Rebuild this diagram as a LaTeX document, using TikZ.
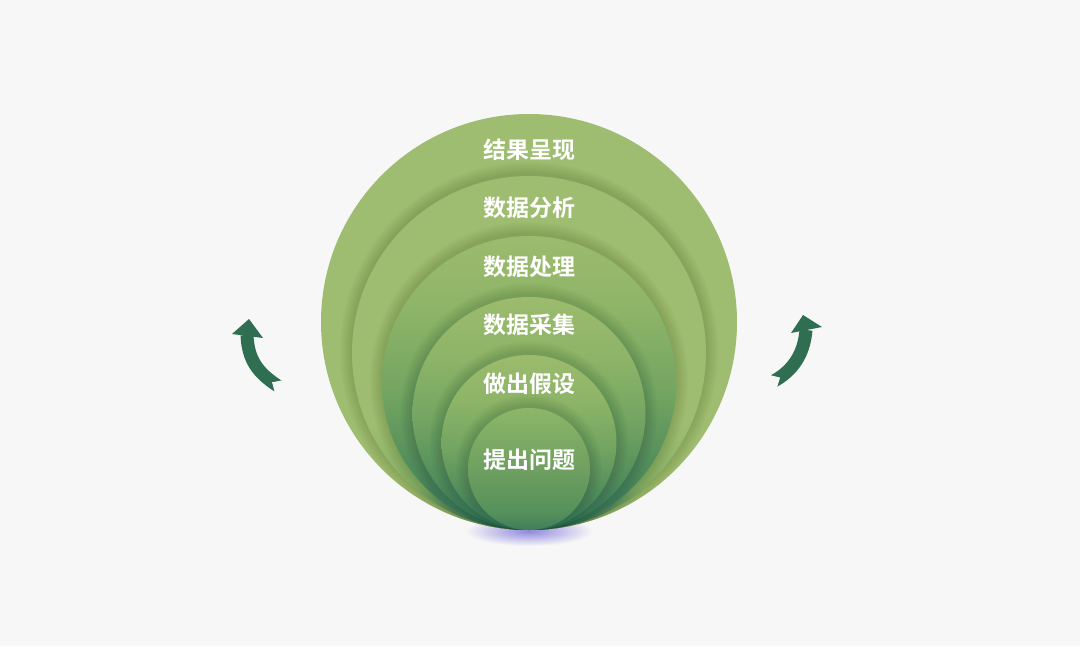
\documentclass[tikz,border=0pt]{standalone}
\usepackage{fontspec}
\newfontfamily\cjk{Noto Sans CJK SC}[BoldFont={Noto Sans CJK SC Bold}]
\definecolor{bg}{HTML}{F7F7F7}
\definecolor{lg}{HTML}{9FBD70}
\definecolor{ar}{HTML}{2F6E50}
\definecolor{glow}{HTML}{8F88DE}
\definecolor{shd}{HTML}{1E3A20}
\definecolor{b0}{HTML}{34705A}
\definecolor{b1}{HTML}{4E8B5B}
\definecolor{b2}{HTML}{72A461}
\definecolor{b3}{HTML}{8DB468}
\definecolor{b4}{HTML}{9CBB6D}
\definecolor{a1}{HTML}{5E955E}
\definecolor{a2}{HTML}{86AF66}
\definecolor{d0}{HTML}{3F7D5A}
\definecolor{d1}{HTML}{55905B}
\definecolor{d2}{HTML}{6EA060}
\definecolor{d3}{HTML}{8DB669}
% bounding box maps to 25bp (bottom) .. 75bp (top)
\pgfdeclareverticalshading{shtwo}{100bp}{color(0bp)=(b0); color(25bp)=(b0); color(28bp)=(a1); color(31bp)=(a2); color(40bp)=(lg); color(75bp)=(lg); color(100bp)=(lg)}
\pgfdeclareverticalshading{shmid}{100bp}{color(0bp)=(b0); color(25bp)=(b0); color(35bp)=(b1); color(48bp)=(b2); color(62bp)=(b3); color(75bp)=(b4); color(100bp)=(b4)}
\pgfdeclareverticalshading{shin}{100bp}{color(0bp)=(d0); color(25bp)=(d0); color(32bp)=(d1); color(50bp)=(d2); color(75bp)=(d3); color(100bp)=(d3)}
\newcommand\myringshadow[2]{%
  \foreach \k in {1,...,12}{\fill[shd, opacity=0.016] (529,#1-2) circle [radius={(#2+\k)*1pt}];}}
\begin{document}
\begin{tikzpicture}[x=1pt,y=-1pt,
  ring/.style={circle, inner sep=0pt, minimum size=#1},
  outerring/.style={circle, inner sep=0pt, minimum size=#1, fill=lg},
  lab/.style={text=white, font=\cjk\bfseries\fontsize{23}{26}\selectfont, inner sep=0pt},
  arrowbody/.style={draw=ar, line width=13pt}]
\fill[bg] (0,0) rectangle (1080,646);
\useasboundingbox (0,0) rectangle (1080,646);
% glow
\shade[inner color=glow, outer color=bg] (529,531) ellipse [x radius=64pt, y radius=15pt];
% circles
\node[outerring=416pt] (c1) at (529,322) {};
\begin{scope}
\clip (529,322) circle [radius=208pt];
\myringshadow{353}{177}
\node[ring=354pt, shading=shtwo] (c2) at (529,353) {};
\myringshadow{383}{147}
\node[ring=294pt, shading=shmid] (c3) at (529,383) {};
\myringshadow{413.5}{116.5}
\node[ring=233pt, shading=shmid] (c4) at (529,413.5) {};
\myringshadow{442.5}{87.5}
\node[ring=175pt, shading=shmid] (c5) at (529,442.5) {};
\myringshadow{469}{61}
\node[ring=122pt, shading=shin] (c6) at (529,469) {};
\end{scope}
% labels
\node[lab] (t1) at (529,150) {结果呈现};
\node[lab] (t2) at (529,208) {数据分析};
\node[lab] (t3) at (529,267) {数据处理};
\node[lab] (t4) at (529,325) {数据采集};
\node[lab] (t5) at (529,384) {做出假设};
\node[lab] (t6) at (529,460) {提出问题};
% left arrow
\draw[arrowbody] (278,386) .. controls (258,373) and (248,360) .. (247,335);
\fill[ar] (249,319) -- (232,334) -- (263,338) -- cycle;
\fill[bg] (272.1,382.3) -- (295.5,377.8) -- (278.2,405.3) -- cycle;
% right arrow
\draw[arrowbody] (774,381) .. controls (792,371) and (804,355) .. (806,330);
\fill[ar] (803,315) -- (791,333) -- (822,327) -- cycle;
\fill[bg] (780.1,377.6) -- (772.85,400.35) -- (756.85,371.85) -- cycle;
\end{tikzpicture}
\end{document}
